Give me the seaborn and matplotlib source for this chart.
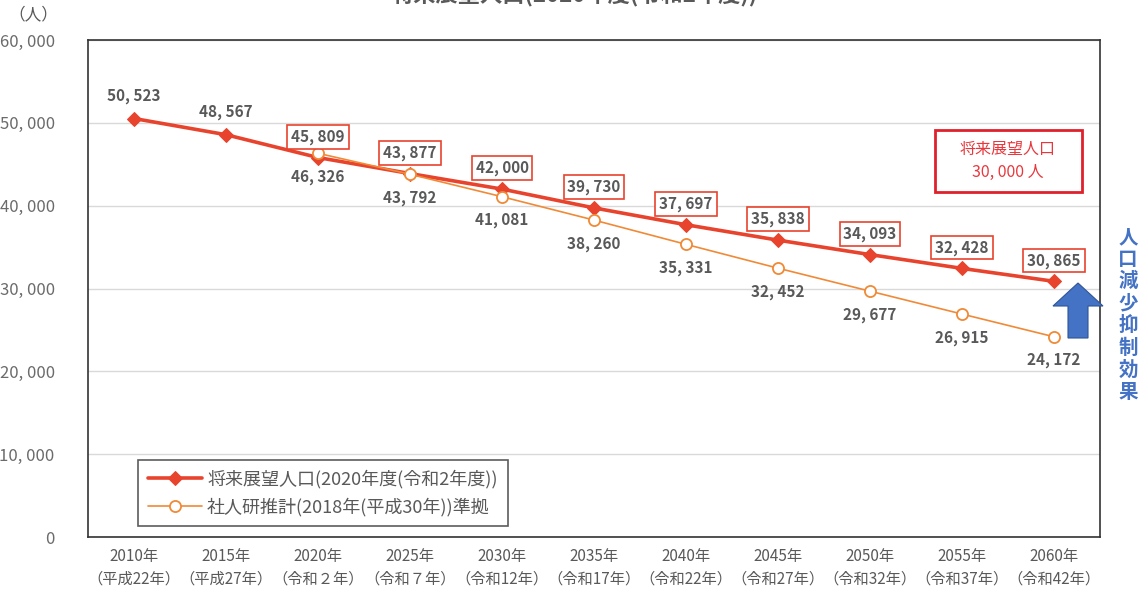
import matplotlib
matplotlib.use("Agg")
import matplotlib.pyplot as plt
import matplotlib.patches as mpatches
import pandas as pd
import seaborn as sns

sns.set_theme(style="white")
plt.rcParams["font.family"] = ["Noto Sans CJK JP", "DejaVu Sans"]

years = ["2010年", "2015年", "2020年", "2025年", "2030年", "2035年",
         "2040年", "2045年", "2050年", "2055年", "2060年"]
eras = ["（平成22年）", "（平成27年）", "（令和２年）", "（令和７年）", "（令和12年）", "（令和17年）",
        "（令和22年）", "（令和27年）", "（令和32年）", "（令和37年）", "（令和42年）"]
future_pop = [50523, 48567, 45809, 43877, 42000, 39730, 37697, 35838, 34093, 32428, 30865]
ipss_years = years[2:]
ipss_pop = [46326, 43792, 41081, 38260, 35331, 32452, 29677, 26915, 24172]
boxed_from = 2  # labels of the main series get a red box from 2020 onward

name_main = "将来展望人口(2020年度(令和2年度))"
name_ipss = "社人研推計(2018年(平成30年))準拠"

RED = "#E8432D"
ORANGE = "#F08A36"
GRAY = "#595959"
BLUE = "#4472C4"

main_df = pd.DataFrame({"year": years, "pop": future_pop})
ipss_df = pd.DataFrame({"year": ipss_years, "pop": ipss_pop})
pos = {y: i for i, y in enumerate(years)}
main_df["x"] = main_df["year"].map(pos)
ipss_df["x"] = ipss_df["year"].map(pos)

fig = plt.figure(figsize=(11.46, 5.97), dpi=100)
ax = fig.add_axes([88 / 1146, 1 - 537 / 597, 1012 / 1146, 497 / 597])

sns.lineplot(data=main_df, x="x", y="pop", ax=ax, color=RED, linewidth=2.6,
             marker="D", markersize=7, markeredgecolor=RED, label=name_main, zorder=4)
sns.lineplot(data=ipss_df, x="x", y="pop", ax=ax, color=ORANGE, linewidth=1.2,
             marker="o", markersize=8, markerfacecolor="white", markeredgecolor=ORANGE,
             markeredgewidth=1.3, label=name_ipss, zorder=5)

ax.set_xlim(-0.5, len(years) - 0.5)
ax.set_ylim(0, 60000)
ax.set_yticks(range(0, 60001, 10000))
ax.set_yticklabels([f"{v:,}".replace(",", ", ") for v in range(0, 60001, 10000)])
ax.set_xticks(range(len(years)))
ax.set_xticklabels([f"{y}\n{e}" for y, e in zip(years, eras)], linespacing=1.45)
ax.tick_params(axis="y", length=0, pad=24, labelsize=12, labelcolor="#6b6b6b")
ax.tick_params(axis="x", length=0, pad=8, labelsize=11, labelcolor=GRAY)
ax.set_xlabel("")
ax.set_ylabel("")
ax.yaxis.grid(True, color="#d9d9d9", linewidth=1)
ax.set_axisbelow(True)
for s in ax.spines.values():
    s.set_color("#333333")
    s.set_linewidth(1.2)

for i, v in enumerate(future_pop):
    txt = f"{v:,}".replace(",", ", ")
    if i >= boxed_from:
        ax.annotate(txt, (i, v), xytext=(0, 15), textcoords="offset points",
                    ha="center", va="center", fontsize=11, fontweight="bold", color=GRAY,
                    bbox=dict(boxstyle="square,pad=0.25", fc="white", ec=RED, lw=1.2), zorder=6)
    else:
        ax.annotate(txt, (i, v), xytext=(0, 16), textcoords="offset points",
                    ha="center", va="center", fontsize=11, fontweight="bold", color=GRAY)
for yr, v in zip(ipss_years, ipss_pop):
    ax.annotate(f"{v:,}".replace(",", ", "), (pos[yr], v), xytext=(0, -17),
                textcoords="offset points", ha="center", va="center",
                fontsize=11, fontweight="bold", color=GRAY)

leg = ax.legend(loc="lower left", bbox_to_anchor=(0.049, 0.022), frameon=True,
                fancybox=False, fontsize=13, handlelength=3.0, borderpad=0.55,
                labelspacing=0.5, handletextpad=0.3, borderaxespad=0)
leg.get_frame().set_edgecolor("#333333")
leg.get_frame().set_linewidth(1.2)
for t in leg.get_texts():
    t.set_color(GRAY)

# unit label and (clipped) title
fig.text(8 / 1146, 1 - 15 / 597, "（人）", fontsize=12, color=GRAY, va="center", ha="left")
fig.text(575 / 1146, 1 - 6 / 597, "将来展望人口(2020年度(令和2年度))", fontsize=16,
         fontweight="bold", color="#595959", ha="center", va="bottom")

# red target box
fig.patches.append(mpatches.Rectangle((935 / 1146, 1 - 192 / 597), 147 / 1146, 62 / 597,
                                      transform=fig.transFigure, fill=False,
                                      edgecolor="#E0202A", linewidth=2))
fig.text(1008 / 1146, 1 - 161 / 597, "将来展望人口\n30, 000 人", fontsize=11.5,
         color="#E8383D", ha="center", va="center", linespacing=1.4)

# blue arrow: population decline suppression effect
arrow = mpatches.FancyArrow(1078 / 1146, 1 - 338 / 597, 0, 55 / 597, width=20 / 1146,
                            head_width=50 / 1146, head_length=23 / 597,
                            length_includes_head=True, transform=fig.transFigure,
                            facecolor=BLUE, edgecolor="#2F5597", linewidth=0.8)
fig.patches.append(arrow)
fig.text(1128 / 1146, 1 - 315 / 597, "\n".join("人口減少抑制効果"), fontsize=14,
         fontweight="bold", color=BLUE, ha="center", va="center", linespacing=1.2)

fig.savefig("out.png", dpi=100)
plt.close(fig)
